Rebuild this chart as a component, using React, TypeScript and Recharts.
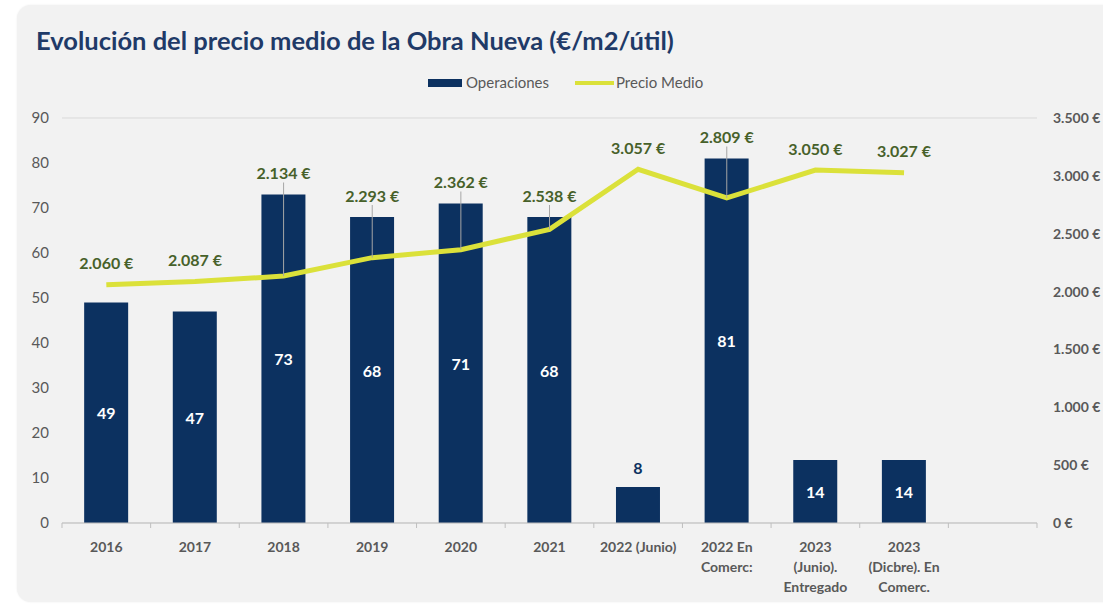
import React from "react";
import {
  ComposedChart,
  Bar,
  Line,
  XAxis,
  YAxis,
  CartesianGrid,
  LabelList,
} from "recharts";

const categories: string[] = [
  "2016",
  "2017",
  "2018",
  "2019",
  "2020",
  "2021",
  "2022 (Junio)",
  "2022 En\nComerc:",
  "2023\n(Junio).\nEntregado",
  "2023\n(Dicbre). En\nComerc.",
  "",
];
const operaciones: (number | null)[] = [49, 47, 73, 68, 71, 68, 8, 81, 14, 14, null];
const precioMedio: (number | null)[] = [2060, 2087, 2134, 2293, 2362, 2538, 3057, 2809, 3050, 3027, null];
const leftTicks = [0, 10, 20, 30, 40, 50, 60, 70, 80, 90];
const rightTicks = [0, 500, 1000, 1500, 2000, 2500, 3000, 3500];

const data = categories.map((c, i) => ({
  cat: c,
  ops: operaciones[i],
  precio: precioMedio[i],
}));

const W = 1103;
const H = 605;
const PLOT_TOP = 118;
const PLOT_BOTTOM = 523;
const LEFT_W = 62;
const RIGHT_W = 66;
const PLOT_H = PLOT_BOTTOM - PLOT_TOP;
const SLOT = (W - LEFT_W - RIGHT_W) / categories.length;
const FONT = "Lato, 'Open Sans', sans-serif";
const NAVY = "#0c3160";
const YELLOW = "#dbe13a";
const GREEN = "#47612a";
const GRAY = "#595959";

const fmtEuro = (v: number) =>
  String(v).replace(/\B(?=(\d{3})+(?!\d))/g, ".") + " €";

const XTick = (props: any) => {
  const { x, y, payload, index } = props;
  const lines = String(payload.value).split("\n");
  const left = x - SLOT / 2;
  return (
    <g>
      <line x1={left} x2={left} y1={PLOT_BOTTOM} y2={PLOT_BOTTOM + 5} stroke="#bfbfbf" />
      {index === categories.length - 1 && (
        <line x1={left + SLOT} x2={left + SLOT} y1={PLOT_BOTTOM} y2={PLOT_BOTTOM + 5} stroke="#bfbfbf" />
      )}
      {payload.value !== "" && (
        <text
          x={x}
          y={y + 21}
          textAnchor="middle"
          fill={GRAY}
          fontFamily={FONT}
          fontWeight={700}
          fontSize={14}
        >
          {lines.map((l: string, i: number) => (
            <tspan key={i} x={x} dy={i === 0 ? 0 : 20}>
              {l}
            </tspan>
          ))}
        </text>
      )}
    </g>
  );
};

const BarLabel = (props: any) => {
  const { x, y, width, height, value } = props;
  if (value == null) return null;
  const small = value < 10;
  const cy = small ? y - 20 : y + height / 2;
  return (
    <text
      x={x + width / 2}
      y={cy}
      textAnchor="middle"
      dominantBaseline="central"
      fill={small ? NAVY : "#ffffff"}
      fontFamily={FONT}
      fontWeight={700}
      fontSize={16}
    >
      {value}
    </text>
  );
};

const PriceLabel = (props: any) => {
  const { x, y, value, index } = props;
  if (value == null) return null;
  const ops = operaciones[index] ?? 0;
  const barTop = PLOT_TOP + PLOT_H * (1 - ops / 90);
  const top = Math.min(y, barTop);
  const ly = top - 22;
  const leader = barTop < y - 4;
  return (
    <g>
      {leader && (
        <line x1={x} y1={ly + 10} x2={x} y2={y} stroke="#a6a6a6" strokeWidth={1} />
      )}
      <text
        x={x}
        y={ly}
        textAnchor="middle"
        dominantBaseline="central"
        fill={GREEN}
        fontFamily={FONT}
        fontWeight={700}
        fontSize={16}
      >
        {fmtEuro(value)}
      </text>
    </g>
  );
};

export default function App() {
  return (
    <div
      style={{
        position: "absolute",
        left: 0,
        top: 0,
        width: W,
        height: H,
        background: "#ffffff",
        overflow: "hidden",
      }}
    >
      <div
        style={{
          position: "absolute",
          left: 17,
          top: 5,
          width: W,
          height: 597,
          background: "#f2f2f2",
          borderRadius: 14,
          boxShadow: "0 0 2px rgba(0,0,0,0.08)",
        }}
      />
      <div
        style={{
          position: "absolute",
          left: 36,
          top: 25,
          fontFamily: FONT,
          fontWeight: 700,
          fontSize: 25.5,
          color: "#1f3a68",
          whiteSpace: "nowrap",
        }}
      >
        Evolución del precio medio de la Obra Nueva (€/m2/útil)
      </div>
      <svg
        width={320}
        height={20}
        style={{ position: "absolute", left: 428, top: 73 }}
      >
        <rect x={0} y={6} width={34} height={8} fill={NAVY} />
        <text x={38} y={15} fill={GRAY} fontFamily={FONT} fontSize={15}>
          Operaciones
        </text>
        <line x1={147} x2={186} y1={10} y2={10} stroke={YELLOW} strokeWidth={4} />
        <text x={188} y={15} fill={GRAY} fontFamily={FONT} fontSize={15}>
          Precio Medio
        </text>
      </svg>
      <div style={{ position: "absolute", left: 0, top: 0 }}>
        <ComposedChart
          width={W}
          height={H}
          data={data}
          margin={{ top: PLOT_TOP, right: 0, bottom: 0, left: 0 }}
          barCategoryGap="25%"
        >
          <CartesianGrid vertical={false} stroke="#d9d9d9" />
          <XAxis
            dataKey="cat"
            interval={0}
            tickLine={false}
            axisLine={{ stroke: "#bfbfbf" }}
            tick={<XTick />}
            height={H - PLOT_BOTTOM}
          />
          <YAxis
            yAxisId="left"
            domain={[0, 90]}
            ticks={leftTicks}
            width={LEFT_W}
            axisLine={false}
            tickLine={false}
            tickMargin={7}
            tick={{ fill: GRAY, fontFamily: FONT, fontSize: 15 }}
          />
          <YAxis
            yAxisId="right"
            orientation="right"
            domain={[0, 3500]}
            ticks={rightTicks}
            width={RIGHT_W}
            axisLine={false}
            tickLine={false}
            tickMargin={10}
            tickFormatter={fmtEuro}
            tick={{ fill: GRAY, fontFamily: FONT, fontSize: 14, fontWeight: 700 }}
          />
          <Bar yAxisId="left" dataKey="ops" fill={NAVY} isAnimationActive={false}>
            <LabelList dataKey="ops" content={<BarLabel />} />
          </Bar>
          <Line
            yAxisId="right"
            dataKey="precio"
            stroke={YELLOW}
            strokeWidth={5}
            dot={false}
            activeDot={false}
            isAnimationActive={false}
            label={<PriceLabel />}
          />
        </ComposedChart>
      </div>
    </div>
  );
}
